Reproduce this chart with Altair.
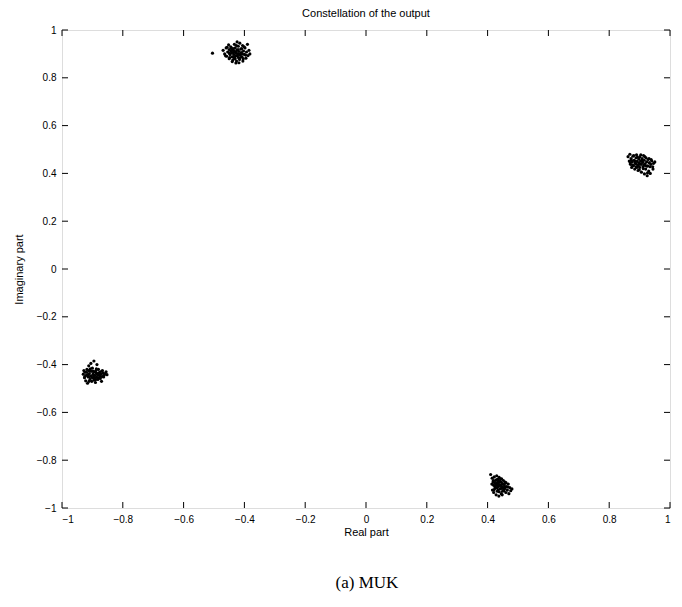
import altair as alt
import pandas as pd

# ---- data ----
a_re = [-0.505, -0.470, -0.465, -0.460, -0.458, -0.455, -0.450, -0.450, -0.447, -0.445,
        -0.442, -0.440, -0.438, -0.436, -0.435, -0.433, -0.432, -0.430, -0.430, -0.428,
        -0.426, -0.425, -0.424, -0.422, -0.420, -0.420, -0.418, -0.416, -0.415, -0.413,
        -0.412, -0.410, -0.408, -0.406, -0.405, -0.403, -0.400, -0.398, -0.395, -0.393,
        -0.390, -0.388, -0.385, -0.382, -0.440, -0.452, -0.428, -0.418, -0.437, -0.445,
        -0.462, -0.457, -0.449, -0.441, -0.434, -0.427, -0.421, -0.414, -0.407, -0.401,
        -0.396, -0.409, -0.423, -0.436, -0.448, -0.431, -0.417, -0.443, -0.404, -0.426]
a_im = [0.903, 0.915, 0.900, 0.925, 0.890, 0.908, 0.918, 0.880, 0.897, 0.930,
        0.905, 0.888, 0.875, 0.915, 0.898, 0.940, 0.882, 0.908, 0.925, 0.893,
        0.870, 0.915, 0.950, 0.900, 0.885, 0.932, 0.910, 0.877, 0.945, 0.896,
        0.920, 0.905, 0.888, 0.935, 0.870, 0.912, 0.898, 0.925, 0.882, 0.908,
        0.940, 0.893, 0.915, 0.900, 0.868, 0.938, 0.862, 0.863, 0.922, 0.912,
        0.892, 0.928, 0.902, 0.920, 0.888, 0.905, 0.918, 0.885, 0.900, 0.930,
        0.895, 0.922, 0.892, 0.908, 0.885, 0.880, 0.898, 0.925, 0.880, 0.935]

b_re = [0.862, 0.866, 0.868, 0.870, 0.872, 0.874, 0.876, 0.878, 0.880, 0.882,
        0.884, 0.886, 0.888, 0.889, 0.890, 0.892, 0.894, 0.895, 0.897, 0.898,
        0.900, 0.901, 0.903, 0.905, 0.906, 0.908, 0.910, 0.911, 0.913, 0.915,
        0.916, 0.918, 0.920, 0.921, 0.923, 0.925, 0.927, 0.928, 0.930, 0.932,
        0.935, 0.937, 0.940, 0.943, 0.946, 0.950, 0.885, 0.896, 0.907, 0.919,
        0.869, 0.877, 0.887, 0.893, 0.899, 0.904, 0.912, 0.917, 0.924, 0.931,
        0.938, 0.944, 0.902, 0.914, 0.881, 0.926, 0.909, 0.891, 0.934, 0.873]
b_im = [0.470, 0.452, 0.480, 0.438, 0.462, 0.425, 0.448, 0.472, 0.432, 0.455,
        0.418, 0.442, 0.465, 0.428, 0.478, 0.450, 0.436, 0.412, 0.460, 0.444,
        0.425, 0.470, 0.452, 0.438, 0.405, 0.462, 0.446, 0.428, 0.475, 0.455,
        0.398, 0.440, 0.418, 0.465, 0.448, 0.390, 0.432, 0.458, 0.410, 0.445,
        0.400, 0.438, 0.452, 0.428, 0.442, 0.448, 0.450, 0.433, 0.455, 0.433,
        0.445, 0.435, 0.440, 0.468, 0.415, 0.478, 0.420, 0.470, 0.430, 0.462,
        0.458, 0.418, 0.440, 0.435, 0.475, 0.402, 0.452, 0.425, 0.428, 0.455]

c_re = [-0.930, -0.928, -0.926, -0.924, -0.922, -0.920, -0.918, -0.916, -0.914, -0.912,
        -0.910, -0.908, -0.906, -0.904, -0.902, -0.900, -0.898, -0.896, -0.894, -0.892,
        -0.890, -0.888, -0.886, -0.884, -0.882, -0.880, -0.878, -0.876, -0.874, -0.872,
        -0.870, -0.868, -0.865, -0.862, -0.858, -0.855, -0.852, -0.895, -0.905, -0.885,
        -0.912, -0.897, -0.888, -0.878, -0.900, -0.915, -0.893, -0.870,
        -0.919, -0.909, -0.901, -0.891, -0.883, -0.875, -0.867, -0.907, -0.889, -0.879,
        -0.925, -0.896, -0.863, -0.911, -0.887]
c_im = [-0.440, -0.425, -0.455, -0.432, -0.468, -0.445, -0.420, -0.478, -0.452, -0.405,
        -0.438, -0.462, -0.428, -0.448, -0.470, -0.415, -0.440, -0.458, -0.430, -0.445,
        -0.475, -0.425, -0.452, -0.438, -0.462, -0.420, -0.445, -0.432, -0.458, -0.440,
        -0.428, -0.450, -0.435, -0.445, -0.438, -0.430, -0.442, -0.385, -0.395, -0.400,
        -0.425, -0.428, -0.435, -0.455, -0.455, -0.442, -0.465, -0.470,
        -0.432, -0.450, -0.428, -0.455, -0.442, -0.448, -0.425, -0.418, -0.462, -0.435,
        -0.450, -0.448, -0.452, -0.470, -0.418]

d_re = [0.410, 0.415, 0.418, 0.420, 0.422, 0.424, 0.426, 0.428, 0.430, 0.432,
        0.433, 0.435, 0.436, 0.438, 0.440, 0.441, 0.443, 0.445, 0.446, 0.448,
        0.450, 0.452, 0.454, 0.455, 0.458, 0.460, 0.462, 0.465, 0.468, 0.470,
        0.473, 0.476, 0.480, 0.420, 0.428, 0.437, 0.448, 0.425, 0.432, 0.439,
        0.444, 0.451, 0.457, 0.434, 0.429, 0.447, 0.414, 0.416,
        0.423, 0.431, 0.442, 0.453, 0.461, 0.427, 0.436, 0.449, 0.419, 0.456,
        0.438, 0.445, 0.466, 0.433, 0.421]
d_im = [-0.860, -0.875, -0.890, -0.905, -0.870, -0.918, -0.885, -0.900, -0.865, -0.930,
        -0.880, -0.910, -0.895, -0.872, -0.920, -0.888, -0.905, -0.940, -0.878, -0.898,
        -0.915, -0.885, -0.928, -0.902, -0.892, -0.935, -0.910, -0.925, -0.900, -0.940,
        -0.915, -0.928, -0.920, -0.935, -0.945, -0.950, -0.945, -0.912, -0.895, -0.905,
        -0.892, -0.900, -0.918, -0.925, -0.882, -0.910, -0.900, -0.925,
        -0.895, -0.915, -0.878, -0.922, -0.895, -0.905, -0.888, -0.930, -0.885, -0.910,
        -0.932, -0.918, -0.912, -0.902, -0.925]

tick_values = [-1, -0.8, -0.6, -0.4, -0.2, 0, 0.2, 0.4, 0.6, 0.8, 1]
title_text = "Constellation of the output"
x_title = "Real part"
y_title = "Imaginary part"
caption_text = "(a) MUK"

# ---- build table ----
pts = pd.DataFrame({
    "re": a_re + b_re + c_re + d_re,
    "im": a_im + b_im + c_im + d_im,
})
ticks = pd.DataFrame({"v": tick_values})

W, H = 608, 478
FONT = "Liberation Sans"

xs = alt.Scale(domain=[-1, 1], nice=False, zero=False)
ys = alt.Scale(domain=[-1, 1], nice=False, zero=False)

points = alt.Chart(pts).mark_circle(size=10, color="black", opacity=1).encode(
    x=alt.X("re:Q", scale=xs, title=x_title,
            axis=alt.Axis(values=tick_values, ticks=False, grid=False, domain=False,
                          labelPadding=6, titlePadding=2, format="",
                          titleFontWeight="normal", titleFont=FONT, titleFontSize=11)),
    y=alt.Y("im:Q", scale=ys, title=y_title,
            axis=alt.Axis(values=tick_values, ticks=False, grid=False, domain=False,
                          labelPadding=6, titlePadding=12, format="",
                          titleFontWeight="normal", titleFont=FONT, titleFontSize=11)),
)

tl = 6
xt_bottom = alt.Chart(ticks).mark_rule(color="black", strokeWidth=1).encode(
    x=alt.X("v:Q", scale=xs), y=alt.value(H), y2=alt.value(H - tl))
xt_top = alt.Chart(ticks).mark_rule(color="black", strokeWidth=1).encode(
    x=alt.X("v:Q", scale=xs), y=alt.value(0), y2=alt.value(tl))
yt_left = alt.Chart(ticks).mark_rule(color="black", strokeWidth=1).encode(
    y=alt.Y("v:Q", scale=ys), x=alt.value(0), x2=alt.value(tl))
yt_right = alt.Chart(ticks).mark_rule(color="black", strokeWidth=1).encode(
    y=alt.Y("v:Q", scale=ys), x=alt.value(W - tl), x2=alt.value(W))

caption = alt.Chart(pd.DataFrame({"t": [caption_text]})).mark_text(
    font="Liberation Serif", fontSize=17, color="black", baseline="middle", align="center"
).encode(text="t:N", x=alt.value(W / 2 + 1), y=alt.value(553))

chart = alt.layer(points, xt_bottom, xt_top, yt_left, yt_right, caption).properties(
    width=W, height=H,
    title=alt.TitleParams(title_text, font=FONT, fontSize=11, fontWeight="normal",
                          color="black", offset=6),
    autosize=alt.AutoSizeParams(type="none"),
    padding={"left": 54, "top": 22, "right": 4, "bottom": 90},
).configure_view(stroke="black", strokeWidth=1).configure_axis(
    labelFont=FONT, labelFontSize=11, labelColor="black",
    titleFont=FONT, titleFontSize=11, titleFontWeight="normal", titleColor="black",
).configure(background="white")

chart.save("out.html", embed_options={"renderer": "svg", "actions": False})
